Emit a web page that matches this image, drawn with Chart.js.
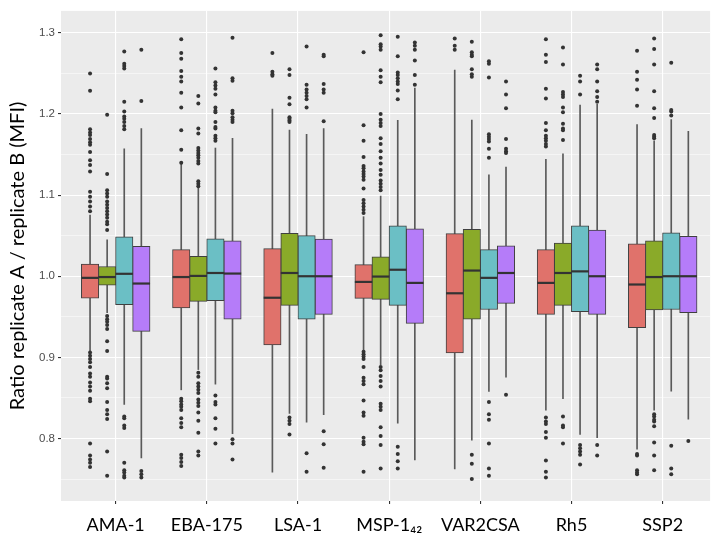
<!DOCTYPE html>
<html>
<head>
<meta charset="utf-8">
<script src="https://cdn.jsdelivr.net/npm/chart.js@4"></script>
<style>
  html, body { margin: 0; padding: 0; background: #fff; }
  #wrap { width: 721px; height: 539px; }
</style>
</head>
<body>
<div id="wrap"><canvas id="chart" width="721" height="539"></canvas></div>
<script>
const categories = ['AMA-1', 'EBA-175', 'LSA-1', 'MSP-1\u2084\u2082', 'VAR2CSA', 'Rh5', 'SSP2'];

// one row per series (red, green, teal, purple), one value per category
const lowerQuartile = [
    [0.973, 0.961, 0.9155, 0.9727, 0.9054, 0.953, 0.9367],
    [0.989, 0.969, 0.964, 0.9715, 0.947, 0.964, 0.9584],
    [0.965, 0.970, 0.947, 0.964, 0.959, 0.9563, 0.959],
    [0.932, 0.947, 0.953, 0.942, 0.9666, 0.953, 0.955]
];
const medians = [
    [0.998, 0.999, 0.9735, 0.993, 0.979, 0.9918, 0.9898],
    [0.999, 1.0004, 1.004, 0.9996, 1.007, 1.004, 0.999],
    [1.003, 1.004, 1.000, 1.008, 0.998, 1.006, 1.000],
    [0.991, 1.0033, 1.000, 0.9918, 1.004, 1.000, 1.000]
];
const upperQuartile = [
    [1.015, 1.0327, 1.034, 1.0143, 1.0526, 1.0327, 1.040],
    [1.012, 1.0245, 1.053, 1.024, 1.0579, 1.0408, 1.0437],
    [1.0486, 1.046, 1.050, 1.062, 1.0327, 1.062, 1.0535],
    [1.037, 1.0437, 1.0457, 1.0584, 1.0376, 1.057, 1.0493]
];
const whiskerLow = [
    [0.908, 0.860, 0.7585, 0.908, 0.7625, 0.835, 0.787],
    [0.955, 0.885, 0.831, 0.891, 0.798, 0.849, 0.835],
    [0.842, 0.867, 0.820, 0.819, 0.858, 0.805, 0.8584],
    [0.776, 0.806, 0.8295, 0.7736, 0.8755, 0.801, 0.8237]
];
const whiskerHigh = [
    [1.0755, 1.139, 1.206, 1.0734, 1.254, 1.144, 1.187],
    [1.045, 1.110, 1.180, 1.0988, 1.1926, 1.151, 1.167],
    [1.157, 1.158, 1.175, 1.192, 1.125, 1.211, 1.193],
    [1.182, 1.170, 1.182, 1.232, 1.1346, 1.212, 1.1787]
];

const outliersRed = [
    [1.250, 1.2285, 1.181, 1.177, 1.174, 1.169, 1.165, 1.162, 1.153, 1.143, 1.137, 1.129, 1.104, 1.098, 1.092, 1.086, 1.080,
     0.906, 0.902, 0.898, 0.894, 0.888, 0.880, 0.876, 0.869, 0.864, 0.859, 0.849, 0.846, 0.794, 0.779, 0.774, 0.770, 0.765],
    [1.292, 1.275, 1.268, 1.253, 1.246, 1.240, 1.226, 1.208, 1.180, 1.156, 1.140,
     0.849, 0.846, 0.842, 0.839, 0.835, 0.825, 0.819, 0.814, 0.780, 0.776, 0.771, 0.766],
    [1.275, 1.252, 1.249, 1.247],
    [1.276, 1.186, 1.167, 1.147, 1.136, 1.133, 1.129, 1.126, 1.123, 1.119, 1.108, 1.094, 1.090, 1.086, 1.082, 1.078,
     0.907, 0.904, 0.901, 0.898, 0.888, 0.875, 0.871, 0.867, 0.847, 0.832, 0.828, 0.801, 0.796, 0.793, 0.759],
    [1.293, 1.284, 1.279],
    [1.292, 1.273, 1.264, 1.231, 1.219, 1.189, 1.180, 1.173, 1.170, 1.167, 1.163, 1.160,
     0.826, 0.821, 0.818, 0.808, 0.801, 0.773, 0.759, 0.752],
    [1.278, 1.252, 1.242, 1.230, 1.210, 0.781, 0.779, 0.761, 0.758, 0.756]
];
const outliersGreen = [
    [1.199, 1.126, 1.106, 1.102, 1.098, 1.092, 1.088, 1.084, 1.080, 1.076, 1.072, 1.067, 1.064, 1.057,
     0.951, 0.947, 0.944, 0.940, 0.935, 0.920, 0.908, 0.876, 0.874, 0.868, 0.862, 0.845, 0.835, 0.830, 0.824, 0.784, 0.754],
    [1.222, 1.213, 1.182, 1.176, 1.158, 1.155, 1.152, 1.149, 1.146, 1.142, 1.139, 1.117, 1.114, 1.111,
     0.881, 0.876, 0.868, 0.864, 0.860, 0.856, 0.848, 0.844, 0.840, 0.832, 0.822, 0.807, 0.784, 0.779],
    [1.255, 1.248, 1.220, 1.212, 1.196, 1.194, 1.192, 1.190, 0.826, 0.822, 0.818, 0.805],
    [1.297, 1.286, 1.283, 1.279, 1.254, 1.246, 1.239, 1.200, 1.193, 1.189, 1.185, 1.170, 1.163, 1.154, 1.146, 1.139,
     1.131, 1.125, 1.118, 1.114, 1.110, 1.106,
     0.888, 0.884, 0.877, 0.871, 0.864, 0.843, 0.839, 0.835, 0.814, 0.803, 0.792, 0.763],
    [1.289, 1.276, 1.273, 1.271, 1.255, 1.249, 1.246, 0.780, 0.769, 0.750],
    [1.282, 1.261, 1.227, 1.224, 1.221, 1.208, 1.202, 1.188, 1.182, 1.180, 1.168, 0.827, 0.816, 0.814, 0.794],
    [1.293, 1.280, 1.261, 1.228, 1.207, 1.195, 1.174, 1.172, 1.170,
     0.830, 0.827, 0.823, 0.821, 0.815, 0.795, 0.779, 0.761]
];
const outliersTeal = [
    [1.277, 1.262, 1.259, 1.256, 1.215, 1.203, 1.197, 1.194, 1.190, 1.185, 1.181,
     0.827, 0.825, 0.816, 0.813, 0.770, 0.761, 0.758, 0.754, 0.752],
    [1.256, 1.239, 1.235, 1.231, 1.224, 1.208, 1.204, 1.202, 1.190, 1.184, 1.182, 1.173, 1.170, 1.167,
     0.853, 0.845, 0.842, 0.825, 0.812, 0.794],
    [1.283, 1.236, 1.230, 1.226, 1.222, 1.218, 1.208, 0.782, 0.759],
    [1.295, 1.271, 1.251, 1.248, 1.244, 1.240, 1.237, 1.229, 1.218, 0.790, 0.781, 0.772, 0.763],
    [1.265, 1.262, 1.245, 1.175, 1.172, 1.169, 1.166, 1.157, 1.146, 0.845, 0.830, 0.823, 0.794, 0.763, 0.754],
    [1.247, 1.240, 1.224, 0.792, 0.788, 0.784, 0.780, 0.768],
    [1.263, 1.205, 1.203, 1.198, 0.791, 0.763, 0.756]
];
const outliersPurple = [
    [1.279, 1.216, 0.760, 0.756, 0.752],
    [1.294, 1.244, 1.241, 1.204, 1.201, 1.196, 1.193, 1.190, 0.799, 0.794, 0.774],
    [1.273, 1.271, 1.237, 1.230, 1.226, 1.191, 0.809, 0.793, 0.764],
    [1.288, 1.284, 1.279, 1.266, 1.248, 1.236],
    [1.240, 1.224, 1.207, 1.169, 1.157, 1.154, 1.152, 0.854],
    [1.261, 1.255, 1.240, 1.228, 1.221, 1.215, 0.792, 0.779],
    [0.797]
];
const outliers = [outliersRed, outliersGreen, outliersTeal, outliersPurple];

const yTicks = [0.75, 0.8, 0.85, 0.9, 0.95, 1.0, 1.05, 1.1, 1.15, 1.2, 1.25, 1.3];

const fillColors = ['#E0726B', '#8AAA29', '#6BBFC5', '#B57CF9'];
const dodge = 0.75;
const slot = dodge / fillColors.length;
const boxPx = 17.4;

function xPos(s, i) {
    return i + 1 - dodge / 2 + slot * (s + 0.5);
}

const isMajor = v => Math.round(v * 100) % 10 === 0;

const datasets = [];
fillColors.forEach((color, s) => {
    datasets.push({
        type: 'bar',
        data: categories.map((c, i) => ({ x: xPos(s, i), y: [whiskerLow[s][i], whiskerHigh[s][i]] })),
        backgroundColor: '#5a5a5a',
        barThickness: 1,
        grouped: false,
        order: 3
    });
    datasets.push({
        type: 'bar',
        data: categories.map((c, i) => ({ x: xPos(s, i), y: [lowerQuartile[s][i], upperQuartile[s][i]] })),
        backgroundColor: color,
        borderColor: '#404040',
        borderWidth: 1,
        borderSkipped: false,
        barThickness: boxPx,
        grouped: false,
        order: 2
    });
    datasets.push({
        type: 'scatter',
        data: categories.map((c, i) => ({ x: xPos(s, i), y: medians[s][i] })),
        pointStyle: 'line',
        pointRadius: boxPx / 2,
        borderColor: '#333333',
        borderWidth: 2.2,
        order: 1
    });
    const pts = [];
    outliers[s].forEach((list, i) => list.forEach(v => pts.push({ x: xPos(s, i), y: v })));
    datasets.push({
        type: 'scatter',
        data: pts,
        pointRadius: 2,
        backgroundColor: '#333333',
        borderWidth: 0,
        order: 0
    });
});

const panelBg = {
    id: 'panelBg',
    beforeDraw(chart) {
        const { ctx, chartArea: a } = chart;
        ctx.save();
        ctx.fillStyle = '#EBEBEB';
        ctx.fillRect(a.left, a.top, a.width, a.height);
        ctx.restore();
    }
};

new Chart(document.getElementById('chart'), {
    type: 'bar',
    data: { datasets: datasets },
    plugins: [panelBg],
    options: {
        responsive: false,
        animation: false,
        layout: { padding: { top: 8, right: 0, left: 0, bottom: 0 } },
        plugins: { legend: { display: false }, tooltip: { enabled: false } },
        scales: {
            x: {
                type: 'linear',
                min: 0.4,
                max: 7.52,
                offset: false,
                afterBuildTicks: scale => { scale.ticks = categories.map((c, i) => ({ value: i + 1 })); },
                afterFit: scale => { scale.height = 38; },
                grid: {
                    offset: false,
                    color: '#FFFFFF',
                    lineWidth: 1.1,
                    tickColor: '#333333',
                    tickLength: 3
                },
                border: { display: false },
                ticks: {
                    autoSkip: false,
                    maxRotation: 0,
                    padding: 10,
                    color: '#000000',
                    font: { family: 'Lato', size: 18 },
                    callback: v => categories[Math.round(v) - 1]
                }
            },
            y: {
                min: 0.723,
                max: 1.327,
                afterBuildTicks: scale => { scale.ticks = yTicks.map(v => ({ value: v })); },
                afterFit: scale => { scale.width = 61; },
                grid: {
                    color: '#FFFFFF',
                    lineWidth: ctx => isMajor(ctx.tick.value) ? 1.1 : 0.5,
                    tickColor: ctx => isMajor(ctx.tick.value) ? '#333333' : 'rgba(0,0,0,0)',
                    tickLength: 3
                },
                border: { display: false },
                ticks: {
                    padding: 3,
                    color: '#4D4D4D',
                    font: { family: 'Liberation Sans', size: 11.5 },
                    callback: v => isMajor(v) ? v.toFixed(1) : ''
                },
                title: {
                    display: true,
                    text: 'Ratio replicate A / replicate B (MFI)',
                    color: '#000000',
                    font: { family: 'Lato', size: 20 },
                    padding: { top: 6, bottom: 0 }
                }
            }
        }
    }
});
</script>
</body>
</html>
